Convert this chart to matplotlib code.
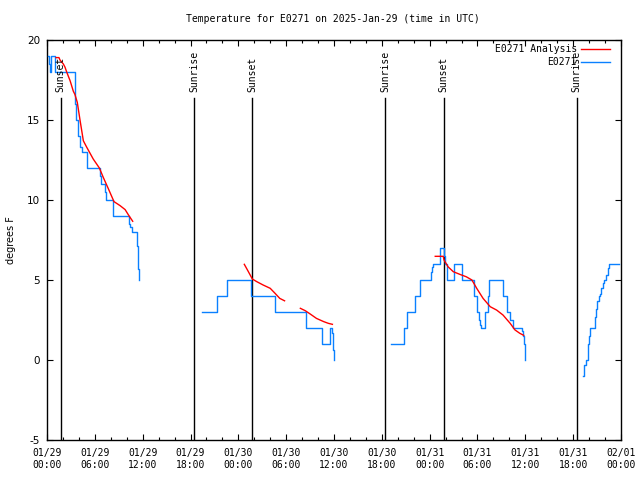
import matplotlib
matplotlib.use("Agg")
import matplotlib.pyplot as plt
from matplotlib.ticker import MultipleLocator

# ---- data (hours since 2025-01-29 00:00 UTC) ----
obs1_t = [0.08, 0.22, 0.32, 0.45, 1.0, 3.45, 3.55, 3.7, 3.93, 4.2, 4.38, 5.05, 6.65, 6.74, 7.25, 7.4, 8.3, 10.25, 10.45, 10.65, 11.28, 11.38, 11.5]
obs1_v = [19, 18.5, 18, 19, 18, 17, 16, 15, 14, 13.3, 13, 12, 11.5, 11, 10.5, 10, 9, 8.5, 8.3, 8, 7.1, 5.7, 5]

obs2_t = [19.5, 21.3, 22.6, 25.55, 25.62, 28.6, 32.5, 34.45, 35.45, 35.75, 35.9, 36.0]
obs2_v = [3, 4, 5, 4.3, 4, 3, 2, 1, 2, 1.7, 0.6, 0]

obs3_t = [43.2, 44.8, 45.15, 46.15, 46.85, 48.15, 48.3, 48.45, 49.35, 49.75, 49.95, 50.15, 51.05, 52.0, 53.6, 53.9, 54.2, 54.35, 54.5, 54.95, 55.3, 55.45, 57.15, 57.75, 58.05, 58.5, 59.6, 59.7, 59.8, 59.9]
obs3_v = [1, 2, 3, 4, 5, 5.5, 5.8, 6, 7, 6.5, 6, 5, 6, 5, 4, 3, 2.5, 2.2, 2, 3, 4, 5, 4, 3, 2.5, 2, 1.8, 1.5, 1, 0]

obs4_t = [67.2, 67.35, 67.6, 67.85, 67.95, 68.1, 68.8, 68.9, 69.05, 69.2, 69.35, 69.55, 69.75, 69.9, 70.1, 70.35, 70.5, 71.7]
obs4_v = [-1, -0.3, 0, 1, 1.5, 2, 2.7, 3.2, 3.7, 4, 4.1, 4.5, 4.8, 5, 5.3, 5.75, 6, 6]

ana1_t = [1.13, 1.5, 1.63, 2.05, 2.26, 2.47, 2.9, 3.3, 3.5, 3.8, 4.14, 4.56, 4.98, 5.8, 6.57, 7.07, 7.7, 8.4, 9.16, 9.8, 10.2, 10.75]
ana1_v = [18.9, 18.9, 18.75, 18.5, 18.3, 18.0, 17.45, 16.8, 16.6, 16.1, 15.0, 13.7, 13.3, 12.56, 12.0, 11.4, 10.7, 9.9, 9.65, 9.4, 9.08, 8.67]

ana2_t = [24.75, 25.26, 25.76, 26.3, 27.1, 28.0, 28.6, 29.2, 29.8]
ana2_v = [5.98, 5.52, 5.06, 4.9, 4.69, 4.48, 4.17, 3.85, 3.7]

ana3_t = [31.78, 32.4, 33.0, 33.8, 34.7, 35.3, 35.8]
ana3_v = [3.23, 3.08, 2.88, 2.6, 2.4, 2.29, 2.23]

ana4_t = [48.7, 49.7, 49.8, 50.3, 50.96, 51.8, 52.6, 53.3, 53.9, 54.7, 55.6, 56.4, 57.2, 58.1, 58.7, 59.3, 59.8]
ana4_v = [6.48, 6.48, 6.25, 5.83, 5.52, 5.35, 5.2, 5.0, 4.48, 3.85, 3.33, 3.12, 2.81, 2.29, 1.88, 1.67, 1.54]

sun_t = [1.7, 18.45, 25.72, 42.45, 49.76, 66.45]
sun_lbl = ["Sunset", "Sunrise", "Sunset", "Sunrise", "Sunset", "Sunrise"]

xtick_hours = list(range(0, 73, 6))
xtick_labels = ["01/29\n00:00", "01/29\n06:00", "01/29\n12:00", "01/29\n18:00",
                "01/30\n00:00", "01/30\n06:00", "01/30\n12:00", "01/30\n18:00",
                "01/31\n00:00", "01/31\n06:00", "01/31\n12:00", "01/31\n18:00",
                "02/01\n00:00"]
ytick_vals = [-5, 0, 5, 10, 15, 20]

BLUE = "#0a80ff"
RED = "#ff0000"
MONO = "DejaVu Sans Mono"

fig = plt.figure(figsize=(6.4, 4.8), dpi=100)
ax = fig.add_axes([47/640, 40/480, 574/640, 400/480])

for i, (t, v) in enumerate([(obs1_t, obs1_v), (obs2_t, obs2_v), (obs3_t, obs3_v), (obs4_t, obs4_v)]):
    ax.plot(t, v, color=BLUE, lw=1.0, drawstyle="steps-post",
            label="E0271" if i == 0 else None, zorder=3)
for i, (t, v) in enumerate([(ana1_t, ana1_v), (ana2_t, ana2_v), (ana3_t, ana3_v), (ana4_t, ana4_v)]):
    ax.plot(t, v, color=RED, lw=1.0, label="E0271 Analysis" if i == 0 else None, zorder=4)

for t, lbl in zip(sun_t, sun_lbl):
    ax.plot([t, t], [-5, 16.4], color="black", lw=1.0, zorder=2)
    ax.text(t, 16.75, lbl, rotation=90, ha="center", va="bottom",
            fontsize=7, family=MONO, zorder=5)

ax.set_xlim(0, 72)
ax.set_ylim(-5, 20)
ax.set_xticks(xtick_hours)
ax.set_xticklabels(xtick_labels, family=MONO, fontsize=7)
ax.xaxis.set_minor_locator(MultipleLocator(2))
ax.set_yticks(ytick_vals)
ax.set_yticklabels([str(v) for v in ytick_vals], fontsize=7.5)
ax.tick_params(axis="both", which="major", direction="in", length=4, width=0.8,
               top=True, right=True, pad=5)
ax.tick_params(axis="x", which="minor", direction="in", length=2, width=0.8, top=True)
ax.tick_params(axis="x", which="major", pad=6)
for s in ax.spines.values():
    s.set_linewidth(1.0)

ax.set_ylabel("degrees F", fontsize=7, labelpad=8)
fig.text(333/640, 1 - 19/480, "Temperature for E0271 on 2025-Jan-29 (time in UTC)",
         ha="center", va="center", family=MONO, fontsize=7)

handles, labels = ax.get_legend_handles_labels()
order = [labels.index("E0271 Analysis"), labels.index("E0271")]
leg = ax.legend([handles[i] for i in order], [labels[i] for i in order],
                loc="upper right", bbox_to_anchor=(0.9808, 0.99),
                frameon=False, markerfirst=False, borderpad=0.0,
                prop={"family": MONO, "size": 7}, handlelength=3.0,
                handletextpad=0.4, labelspacing=0.35, borderaxespad=0.0)

fig.savefig("out.png", dpi=100)
